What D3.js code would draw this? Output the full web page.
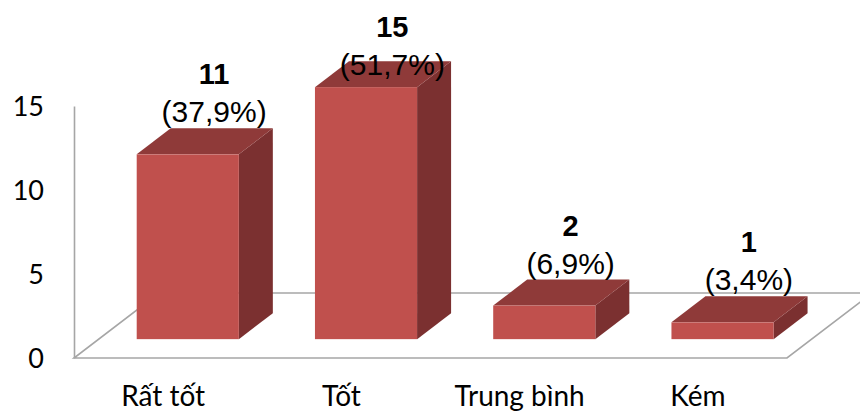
<!DOCTYPE html>
<html>
<head>
<meta charset="utf-8">
<script src="https://cdn.jsdelivr.net/npm/d3@7/dist/d3.min.js"></script>
<style>
  html, body { margin: 0; padding: 0; background: #fff; }
  svg { display: block; }
</style>
</head>
<body>
<svg id="chart" width="860" height="413"></svg>
<script>
// Ratings and counts
const categories = ["Rất tốt", "Tốt", "Trung bình", "Kém"];
const counts = [11, 15, 2, 1];
const percents = ["37,9%", "51,7%", "6,9%", "3,4%"];
const yTicks = [0, 5, 10, 15];

const svg = d3.select("#chart");

// Front plane of the 3-D box
const left = 74, right = 787, base = 358, topY = 106;
// Oblique offset for full floor depth
const DX = 85, DY = 65;
// Depth (0..1) of the front and back faces of each column
const zFront = 0.29, zBack = 0.69, zLabel = 0.6;

const x = d3.scaleBand().domain(categories).range([left, right])
  .paddingInner(0.427).paddingOuter(0.2135);
const slot = d3.scaleBand().domain(categories).range([left, right]);
const y = d3.scaleLinear().domain([0, 15]).range([base, topY]);

const proj = (px, v, z) => [px + z * DX, y(v) - z * DY];
const poly = pts => "M" + pts.map(p => p.join(",")).join("L") + "Z";

// Floor
svg.append("path")
  .attr("d", poly([proj(left, 0, 0), proj(right, 0, 0), proj(right, 0, 1), proj(left, 0, 1)]))
  .attr("fill", "#fff")
  .attr("stroke", "#a6a6a6")
  .attr("stroke-width", 1.6);

// Value axis
const yAxis = d3.axisLeft(y).tickValues(yTicks).tickSizeInner(0).tickSizeOuter(0).tickPadding(30);
const gy = svg.append("g").attr("transform", `translate(${left},0)`).call(yAxis);
gy.select(".domain").attr("stroke", "#a6a6a6").attr("stroke-width", 1.6);
gy.selectAll("text")
  .attr("font-family", "Lato, 'Open Sans', sans-serif")
  .attr("font-size", 27)
  .attr("fill", "#000")
  .attr("dy", "0.36em");

// Columns
const cols = svg.append("g");
categories.forEach((c, i) => {
  const v = counts[i];
  const x0 = x(c), x1 = x(c) + x.bandwidth();
  const g = cols.append("g");
  // side face
  g.append("path").attr("d", poly([proj(x1, 0, zFront), proj(x1, v, zFront), proj(x1, v, zBack), proj(x1, 0, zBack)]))
    .attr("fill", "#7b3030");
  // top face
  g.append("path").attr("d", poly([proj(x0, v, zFront), proj(x1, v, zFront), proj(x1, v, zBack), proj(x0, v, zBack)]))
    .attr("fill", "#8f3a39");
  // front face
  const f0 = proj(x0, v, zFront), f1 = proj(x1, 0, zFront);
  g.append("rect").attr("x", f0[0]).attr("y", f0[1])
    .attr("width", f1[0] - f0[0]).attr("height", f1[1] - f0[1])
    .attr("fill", "#c0504d");
});

// Data labels (count + share), kept inside the chart area
const labels = svg.append("g").attr("font-family", "'Liberation Sans', Arial, sans-serif").attr("fill", "#000");
categories.forEach((c, i) => {
  const v = counts[i];
  const cx = proj(x(c) + x.bandwidth() / 2, v, zLabel)[0];
  const topBack = proj(0, v, zBack)[1];
  let pctBase = topBack - 6;
  let valBase = pctBase - 38;
  const shift = Math.max(0, 37 - valBase);
  valBase += shift; pctBase += shift;
  labels.append("text").attr("x", cx).attr("y", valBase)
    .attr("text-anchor", "middle").attr("font-weight", "bold").attr("font-size", 29)
    .text(v);
  labels.append("text").attr("x", cx).attr("y", pctBase)
    .attr("text-anchor", "middle").attr("font-size", 30)
    .text(`(${percents[i]})`);
});

// Category labels
svg.append("g").selectAll("text").data(categories).join("text")
  .attr("x", d => slot(d) + slot.bandwidth() / 2)
  .attr("y", 406)
  .attr("text-anchor", "middle")
  .attr("font-family", "Lato, 'Open Sans', sans-serif")
  .attr("font-size", 28)
  .attr("fill", "#000")
  .text(d => d);
</script>
</body>
</html>
